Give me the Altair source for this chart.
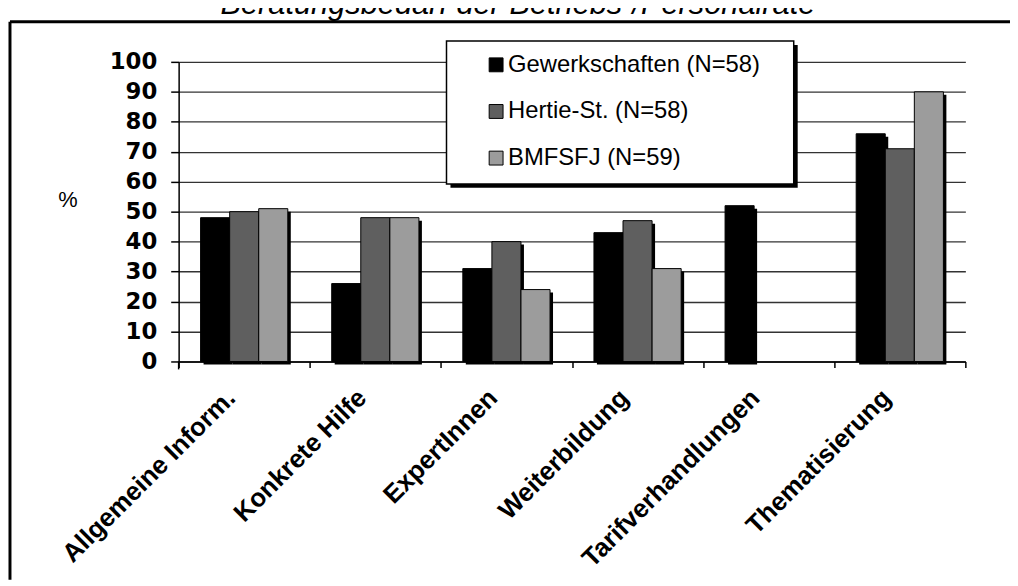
import altair as alt
import pandas as pd

# ---------------- data ----------------
categories = ["Allgemeine Inform.", "Konkrete Hilfe", "ExpertInnen",
              "Weiterbildung", "Tarifverhandlungen", "Thematisierung"]
series = ["Gewerkschaften (N=58)", "Hertie-St. (N=58)", "BMFSFJ (N=59)"]
gewerkschaften = [48, 26, 31, 43, 52, 76]
hertie = [50, 48, 40, 47, None, 71]
bmfsfj = [51, 48, 24, 31, None, 90]
series_colors = ["#000000", "#5f5f5f", "#9c9c9c"]
y_ticks = [0, 10, 20, 30, 40, 50, 60, 70, 80, 90, 100]
title_text = "Beratungsbedarf der Betriebs-/Personalräte"
y_title = "%"

rows = []
for s, vals in zip(series, [gewerkschaften, hertie, bmfsfj]):
    for c, v in zip(categories, vals):
        if v is not None:
            rows.append({"Kategorie": c, "Reihe": s, "Wert": v})
df = pd.DataFrame(rows)

# ---------------- layout ----------------
W, H = 1010, 574
X0, X1 = 172, 965        # plot band range (view px)
Y0, Y100 = 354, 52       # y=0 and y=100 positions (view px)
band = (X1 - X0) / len(categories)
FONT = "Liberation Sans"

x_scale = alt.Scale(domain=categories, range=[X0, X1], paddingInner=0, paddingOuter=0)
y_scale = alt.Scale(domain=[0, 100], range=[Y0, Y100], nice=False, zero=True)

y_axis = alt.Axis(
    values=y_ticks, title=y_title, titleAngle=0, titleX=-112, titleY=191,
    titleAlign="center", titleBaseline="middle", titleFont=FONT,
    titleFontSize=22, titleFontWeight="normal", titleColor="black",
    labelFont="DejaVu Sans", labelFontWeight="bold", labelFontSize=23,
    labelColor="black", labelPadding=14, tickSize=8, tickColor="black",
    tickWidth=1.5, domainColor="black", domainWidth=1.5, grid=True,
    gridColor="#333333", gridWidth=1.4, offset=-X0, labelFlush=False,
    labelOverlap=False,
)
x_axis = alt.Axis(
    title=None, labelAngle=-45, labelAlign="right", labelBaseline="alphabetic",
    labelFont=FONT, labelFontWeight="bold", labelFontSize=26, labelColor="black",
    labelPadding=32, labelOffset=-8, labelLimit=500, labelOverlap=False,
    labelFlush=False, tickBand="extent", tickSize=6, tickColor="black",
    tickWidth=1.5, domainColor="black", domainWidth=1.5, grid=False,
    offset=-(H - Y0),
)

off_main = alt.Scale(domain=series, paddingInner=0, paddingOuter=0.755)
off_shadow = alt.Scale(domain=series, paddingInner=0, paddingOuter=0.755,
                       range=[3, band + 3])

shadow = alt.Chart(df).mark_bar(color="black", yOffset=3).encode(
    x=alt.X("Kategorie:N", scale=x_scale, sort=categories, axis=x_axis),
    xOffset=alt.XOffset("Reihe:N", scale=off_shadow, sort=series),
    y=alt.Y("Wert:Q", scale=y_scale, axis=y_axis),
)

bars = alt.Chart(df).mark_bar(stroke="black", strokeWidth=1).encode(
    x=alt.X("Kategorie:N", scale=x_scale, sort=categories, axis=x_axis),
    xOffset=alt.XOffset("Reihe:N", scale=off_main, sort=series),
    y=alt.Y("Wert:Q", scale=y_scale, axis=y_axis),
    color=alt.Color(
        "Reihe:N",
        scale=alt.Scale(domain=series, range=series_colors),
        sort=series,
        legend=alt.Legend(
            title=None, orient="none", legendX=480, legendY=43,
            direction="vertical", symbolType="square", symbolSize=196,
            symbolStrokeColor="black", symbolStrokeWidth=1, symbolOpacity=1,
            labelFont=FONT, labelFontSize=24, labelColor="black",
            rowPadding=23, labelOffset=0, padding=0, labelLimit=500,
        ),
    ),
)

one = alt.Data(values=[{"k": 1}])

legend_shadow = alt.Chart(one).mark_rect(color="black").encode(
    x=alt.value(446), x2=alt.value(796), y=alt.value(35), y2=alt.value(179)
)
legend_box = alt.Chart(one).mark_rect(fill="white", stroke="black", strokeWidth=1.5).encode(
    x=alt.value(442), x2=alt.value(792), y=alt.value(31), y2=alt.value(175)
)
y_line_ext = alt.Chart(one).mark_rule(color="black", strokeWidth=1.5).encode(
    x=alt.value(X0), y=alt.value(Y0), y2=alt.value(Y0 + 8)
)
frame_left = alt.Chart(one).mark_rule(color="black", strokeWidth=3).encode(
    x=alt.value(2), y=alt.value(11.5), y2=alt.value(H)
)
frame_top = alt.Chart(one).mark_rule(color="black", strokeWidth=3).encode(
    x=alt.value(2), x2=alt.value(W), y=alt.value(11.5)
)
title = alt.Chart(one).mark_text(
    font=FONT, fontSize=31, fontStyle="italic", align="center",
    baseline="alphabetic", color="black",
).encode(x=alt.value(514), y=alt.value(4), text=alt.value(title_text))

chart = alt.layer(
    frame_left, frame_top, title, y_line_ext, shadow, bars, legend_shadow, legend_box
).resolve_scale(xOffset="independent").properties(
    width=W, height=H, padding=0,
    autosize=alt.AutoSizeParams(type="none"),
    background="white",
).configure_view(stroke=None)

chart.save("out.html", embed_options={"renderer": "svg", "actions": False})
